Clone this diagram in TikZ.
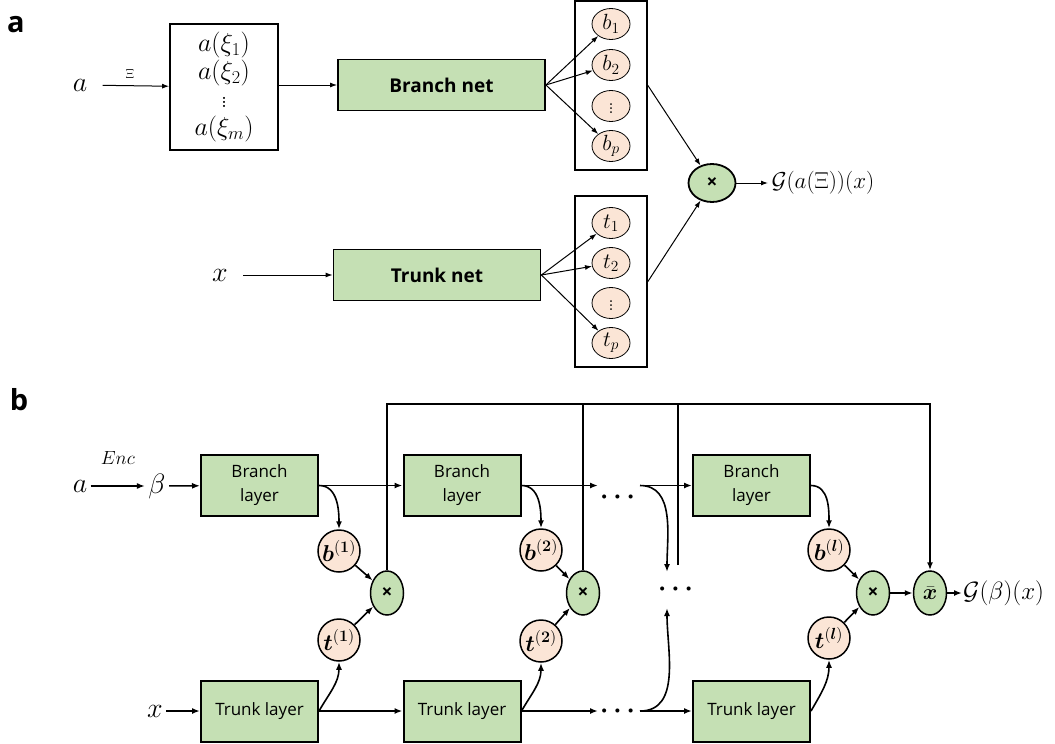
\documentclass[tikz,border=0pt]{standalone}
\usepackage{fix-cm}
\usepackage{fontspec}
\usepackage{amsmath}
\usepackage{bm}
\setsansfont{Open Sans}
\usetikzlibrary{arrows.meta,positioning,calc,shapes.geometric}
\definecolor{netgreen}{RGB}{197,224,180}
\definecolor{coefpeach}{RGB}{251,229,214}

\begin{document}
\begin{tikzpicture}[
    x=1pt, y=1pt,
    every node/.style={font=\fontsize{20}{24}\selectfont},
    panel/.style={font=\sffamily\bfseries\fontsize{29}{32}\selectfont},
    net/.style={rectangle, draw, line width=1.8pt, fill=netgreen,
                minimum width=207pt, minimum height=51pt,
                font=\sffamily\bfseries\fontsize{19}{24}\selectfont},
    col/.style={rectangle, draw, line width=1.8pt, minimum width=72pt},
    coef/.style={ellipse, draw, line width=0.8pt, fill=coefpeach,
                 minimum width=38pt, minimum height=31pt, inner sep=0pt,
                 font=\fontsize{22}{24}\selectfont},
    mult/.style={ellipse, draw, line width=1.8pt, fill=netgreen,
                 minimum width=47pt, minimum height=38pt, inner sep=0pt,
                 font=\sffamily\bfseries\fontsize{19}{20}\selectfont},
    layer/.style={rectangle, draw, line width=2pt, fill=netgreen,
                  minimum width=117pt, minimum height=61pt, align=center,
                  font=\sffamily\fontsize{17}{24}\selectfont},
    lcoef/.style={circle, draw, line width=1.5pt, fill=coefpeach,
                  minimum size=42pt, inner sep=0pt, font=\fontsize{23}{26}\selectfont},
    lmult/.style={ellipse, draw, line width=1.5pt, fill=netgreen,
                  minimum width=33pt, minimum height=44pt, inner sep=0pt,
                  font=\sffamily\bfseries\fontsize{19}{20}\selectfont},
    dots/.style={font=\boldmath\fontsize{26}{28}\selectfont},
    arrow/.style={-{Latex[length=7pt,width=5pt]}, line width=1pt},
    barrow/.style={-{Latex[length=8pt,width=6pt]}, line width=1.6pt}
]
\useasboundingbox (0,0) rectangle (1055,-744);

% Panel a
\node[panel] (lbla) at (16,-25) {a};
\node[font=\fontsize{28}{30}\selectfont] (ain) at (80,-85) {$a$};
\node[rectangle, draw, line width=1.8pt, minimum width=108pt, minimum height=126pt,
      align=center, font=\fontsize{26}{28}\selectfont] (seq) at (224,-87)
      {$a(\xi_1)$\\$a(\xi_2)$\\$\vdots$\\$a(\xi_m)$};
\node[net] (bnet) at (441.5,-85) {Branch net};
\node[col, minimum height=169pt] (bcol) at (611,-85.5) {};
\node[coef] (b1) at (611,-24)  {$b_1$};
\node[coef] (b2) at (611,-65)  {$b_2$};
\node[coef] (bd) at (611,-106) {$\vdots$};
\node[coef] (bp) at (611,-146) {$b_p$};

\node[font=\fontsize{28}{30}\selectfont] (xin) at (220,-275) {$x$};
\node[net] (tnet) at (437,-275) {Trunk net};
\node[col, minimum height=171pt] (tcol) at (611,-281.5) {};
\node[coef] (t1) at (611,-223) {$t_1$};
\node[coef] (t2) at (611,-263) {$t_2$};
\node[coef] (td) at (611,-303) {$\vdots$};
\node[coef] (tp) at (611,-343) {$t_p$};

\node[mult] (mlt) at (712,-183) {×};
\node[anchor=west, font=\fontsize{23}{26}\selectfont] (gouta) at (768,-183) {$\mathcal{G}(a(\Xi))(x)$};

% Arrows a
\draw[arrow, shorten <=12pt] (ain) -- node[above=3pt, font=\fontsize{13}{14}\selectfont]{$\Xi$} (seq);
\draw[arrow] (seq.east |- bnet) -- (bnet);
\draw[arrow] (bnet.east) -- (b1);
\draw[arrow] (bnet.east) -- (b2);
\draw[arrow] (bnet.east) -- (bp);
\draw[arrow, shorten <=12pt] (xin) -- (tnet);
\draw[arrow] (tnet.east) -- (t1);
\draw[arrow] (tnet.east) -- (t2);
\draw[arrow] (tnet.east) -- (tp);
\draw[arrow] (bcol.east) -- (mlt);
\draw[arrow] (tcol.east) -- (mlt);
\draw[arrow] (mlt) -- (gouta);

% Panel b
\node[panel] (lblb) at (19,-400) {b};
\node[font=\fontsize{28}{30}\selectfont] (ain2) at (80,-486) {$a$};
\node[font=\fontsize{28}{30}\selectfont] (beta) at (157,-486) {$\beta$};
\node[font=\fontsize{28}{30}\selectfont] (xin2) at (155,-711) {$x$};

\node[layer] (br1) at (259.5,-485.5) {Branch\\layer};
\node[layer] (br2) at (462,-485.5)   {Branch\\layer};
\node[layer] (br3) at (751.5,-485.5) {Branch\\layer};
\node[layer] (tr1) at (259.5,-711)   {Trunk layer};
\node[layer] (tr2) at (462,-711)     {Trunk layer};
\node[layer] (tr3) at (751.5,-711)   {Trunk layer};

\node[lcoef] (bc1) at (339,-551) {$\bm{b}^{(\bm{1})}$};
\node[lcoef] (tc1) at (339,-640) {$\bm{t}^{(\bm{1})}$};
\node[lcoef] (bc2) at (541,-550) {$\bm{b}^{(\bm{2})}$};
\node[lcoef] (tc2) at (541,-641) {$\bm{t}^{(\bm{2})}$};
\node[lcoef] (bc3) at (829,-550) {$\bm{b}^{(\bm{l})}$};
\node[lcoef] (tc3) at (829,-638) {$\bm{t}^{(\bm{l})}$};

\node[lmult] (m1) at (387,-593) {×};
\node[lmult] (m2) at (583,-593) {×};
\node[lmult] (m3) at (873,-593) {×};
\node[lmult, font=\fontsize{22}{24}\selectfont] (xbar) at (930,-593) {$\bar{\bm{x}}$};
\node[anchor=west, inner sep=1pt, font=\fontsize{25}{28}\selectfont] (goutb) at (962,-593) {$\mathcal{G}(\beta)(x)$};

\node[dots] (bdots) at (620,-497) {$\cdots$};
\node[dots] (tdots) at (620,-711) {$\cdots$};
\node[dots] (mdots) at (678,-589) {$\cdots$};

\coordinate (bgap)    at (598,-485.5);
\coordinate (bresume) at (640,-485.5);
\coordinate (bdown)   at (667,-572);
\coordinate (tgap)    at (598,-711);
\coordinate (tresume) at (640,-711);
\coordinate (tup)     at (667,-608);
\coordinate (dskip)   at (678,-565);
\coordinate (skip)    at (930,-404);

% Arrows b
\draw[barrow] (ain2) -- node[above=17pt, font=\fontsize{19}{22}\selectfont]{$Enc$} (beta);
\draw[barrow] (beta) -- (br1);
\draw[barrow] (xin2) -- (tr1);

\draw[barrow] (br1) -- (br2);
\draw[barrow] (tr1) -- (tr2);
\draw[barrow] (br1.east) to[out=0,in=90] (bc1.north);
\draw[barrow] (tr1.east) to[out=60,in=-90] (tc1.south);
\draw[barrow] (bc1) -- (m1);
\draw[barrow] (tc1) -- (m1);

\draw[barrow] (br2.east) -- (bgap);
\draw[barrow] (tr2.east) -- (tgap);
\draw[barrow] (br2.east) to[out=0,in=90] (bc2.north);
\draw[barrow] (tr2.east) to[out=60,in=-90] (tc2.south);
\draw[barrow] (bc2) -- (m2);
\draw[barrow] (tc2) -- (m2);

\draw[barrow] (bresume) -- (br3);
\draw[barrow] (tresume) -- (tr3);
\draw[barrow] (bresume) to[out=0,in=90] (bdown);
\draw[barrow] (tresume) to[out=0,in=-90] (tup);

\draw[barrow] (br3.east) to[out=0,in=90] (bc3.north);
\draw[barrow] (tr3.east) to[out=60,in=-90] (tc3.south);
\draw[barrow] (bc3) -- (m3);
\draw[barrow] (tc3) -- (m3);
\draw[barrow] (m3) -- (xbar);
\draw[barrow] (xbar) -- (goutb);

% Skip connections
\draw[barrow] (m1.north) |- (skip) -- (xbar.north);
\draw[line width=1.6pt] (m2.north) -- (m2.north |- skip);
\draw[line width=1.6pt] (dskip) -- (dskip |- skip);

\end{tikzpicture}
\end{document}
